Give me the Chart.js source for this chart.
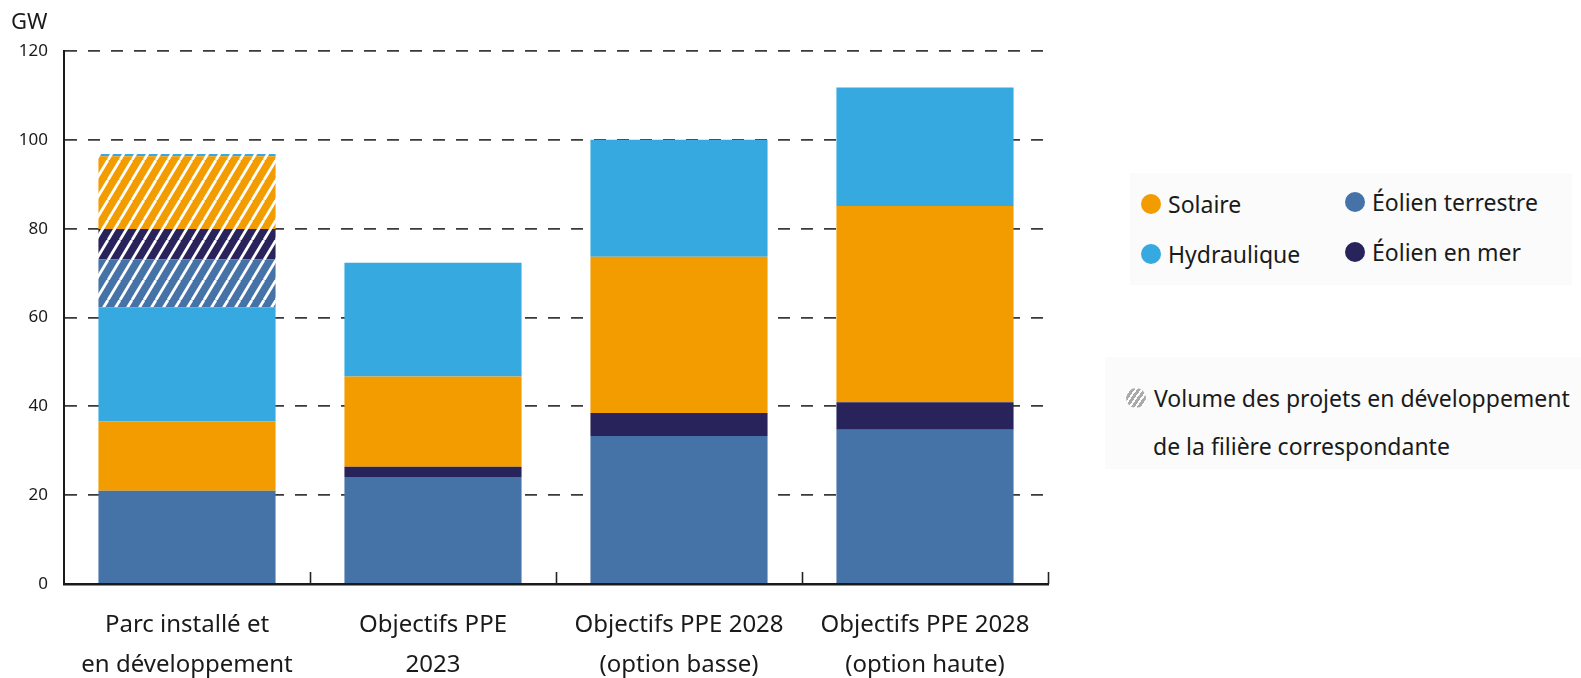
<!DOCTYPE html>
<html lang="fr">
<head>
<meta charset="utf-8">
<script src="https://cdn.jsdelivr.net/npm/chart.js@4.4.1/dist/chart.umd.min.js"></script>
<style>
  html, body { margin: 0; padding: 0; background: #fff; overflow: hidden; }
  #wrap { position: relative; width: 1581px; height: 678px; font-family: 'Noto Sans', sans-serif; color: #1a1a1a; }
  #wrap canvas { position: absolute; left: 0; top: 0; }
  .unit { position: absolute; left: 11px; top: 5px; font-size: 22px; }
  .box { position: absolute; background: #fbfbfb; }
  .item { position: absolute; height: 30px; display: flex; align-items: center; font-size: 23px; white-space: nowrap; }
  .dot { width: 20px; height: 20px; border-radius: 50%; margin-right: 7px; flex: none; }
  .hatch { background: repeating-linear-gradient(-55deg, #aaa 0 3px, #fff 3px 5px); }
</style>
</head>
<body>
<div id="wrap">
  <canvas id="parcChart"></canvas>
  <div class="unit">GW</div>
  <div class="box" style="left:1130px; top:173px; width:442px; height:112px;"></div>
  <div class="box" style="left:1105px; top:357px; width:476px; height:112px;"></div>
  <div class="item" style="left:1141px; top:189px;"><span class="dot" style="background:#F39C00"></span>Solaire</div>
  <div class="item" style="left:1345px; top:187px;"><span class="dot" style="background:#4573A7"></span>Éolien terrestre</div>
  <div class="item" style="left:1141px; top:239px;"><span class="dot" style="background:#36A9E1"></span>Hydraulique</div>
  <div class="item" style="left:1345px; top:237px;"><span class="dot" style="background:#29235C"></span>Éolien en mer</div>
  <div class="item" style="left:1126px; top:383px;"><span class="dot hatch" style="margin-right:8px"></span>Volume des projets en développement</div>
  <div class="item" style="left:1153px; top:431px;">de la filière correspondante</div>
</div>
<script>
const categories = [
    ['Parc installé et', 'en développement'],
    ['Objectifs PPE', '2023'],
    ['Objectifs PPE 2028', '(option basse)'],
    ['Objectifs PPE 2028', '(option haute)']
];
const yTicks = [0, 20, 40, 60, 80, 100, 120];

// GW, du bas vers le haut
const eolienTerrestre = [21.0, 24.1, 33.3, 34.7];
const eolienMer       = [0, 2.3, 5.2, 6.2];
const solaire         = [15.6, 20.3, 35.2, 44.2];
const hydraulique     = [25.7, 25.6, 26.3, 26.7];

// projets en développement (barre 1 seulement)
const devTerrestre    = [10.8, 0, 0, 0];
const devMer          = [6.8, 0, 0, 0];
const devSolaire      = [16.4, 0, 0, 0];
const devHydraulique  = [0.5, 0, 0, 0];

const colors = {
    terrestre: '#4573A7',
    mer: '#29235C',
    solaire: '#F39C00',
    hydraulique: '#36A9E1'
};

function hatch(color) {
    const w = 12, h = 20;
    const c = document.createElement('canvas');
    c.width = w; c.height = h;
    const g = c.getContext('2d');
    g.fillStyle = color;
    g.fillRect(0, 0, w, h);
    g.strokeStyle = '#fff';
    g.lineWidth = 2.8;
    for (let k = -1; k <= 1; k++) {
        g.beginPath();
        g.moveTo(k * w, h);
        g.lineTo(k * w + w, 0);
        g.stroke();
    }
    return g.createPattern(c, 'repeat');
}

function bar(label, data, bg) {
    return { label: label, data: data, backgroundColor: bg, borderWidth: 0,
             barPercentage: 0.72, categoryPercentage: 1 };
}

// petites graduations verticales sur l'axe des x
const xTickMarks = {
    id: 'xTickMarks',
    afterDatasetsDraw(chart) {
        const { ctx, chartArea } = chart;
        const n = categories.length;
        const step = (chartArea.right - chartArea.left) / n;
        ctx.save();
        ctx.strokeStyle = '#222';
        ctx.lineWidth = 1.6;
        for (let i = 1; i <= n; i++) {
            const x = Math.round(chartArea.left + i * step) + 0.5;
            ctx.beginPath();
            ctx.moveTo(x, chartArea.bottom);
            ctx.lineTo(x, chartArea.bottom - 12);
            ctx.stroke();
        }
        ctx.restore();
    }
};

window.onload = function() {
    const ctx = document.getElementById('parcChart').getContext('2d');
    new Chart(ctx, {
        type: 'bar',
        data: {
            labels: categories,
            datasets: [
                bar('Éolien terrestre', eolienTerrestre, colors.terrestre),
                bar('Éolien en mer', eolienMer, colors.mer),
                bar('Solaire', solaire, colors.solaire),
                bar('Hydraulique', hydraulique, colors.hydraulique),
                bar('Éolien terrestre (développement)', devTerrestre, hatch(colors.terrestre)),
                bar('Éolien en mer (développement)', devMer, hatch(colors.mer)),
                bar('Solaire (développement)', devSolaire, hatch(colors.solaire)),
                bar('Hydraulique (développement)', devHydraulique, hatch(colors.hydraulique))
            ]
        },
        options: {
            responsive: true,
            maintainAspectRatio: false,
            animation: false,
            layout: { padding: { top: 51, right: 533, left: 0, bottom: 0 } },
            plugins: {
                legend: { display: false },
                tooltip: { enabled: false }
            },
            scales: {
                x: {
                    stacked: true,
                    grid: { display: false, drawTicks: false },
                    border: { display: true, color: '#1a1a1a', width: 2.5 },
                    ticks: {
                        color: '#1a1a1a',
                        padding: 21,
                        font: { family: "'Noto Sans', sans-serif", size: 24, lineHeight: 40 / 24 }
                    },
                    afterFit: function(scale) { scale.height = 94; }
                },
                y: {
                    stacked: true,
                    min: 0,
                    max: 120,
                    afterBuildTicks: function(scale) {
                        scale.ticks = yTicks.map(v => ({ value: v }));
                    },
                    grid: {
                        drawTicks: false,
                        color: c => c.tick && c.tick.value === 0 ? 'rgba(0,0,0,0)' : '#3a3a3a',
                        lineWidth: 1.8
                    },
                    border: { display: true, color: '#1a1a1a', width: 2, dash: [12, 11] },
                    ticks: {
                        color: '#1a1a1a',
                        padding: 16,
                        font: { family: "'Noto Sans', sans-serif", size: 17 }
                    },
                    afterFit: function(scale) { scale.width = 64; }
                }
            }
        },
        plugins: [xTickMarks]
    });
};
</script>
</body>
</html>
